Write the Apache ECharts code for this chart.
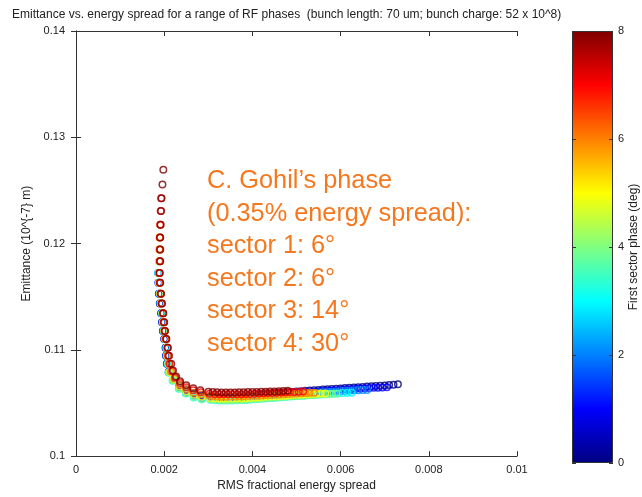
<!DOCTYPE html>
<html>
<head>
<meta charset="utf-8">
<script src="https://cdn.jsdelivr.net/npm/echarts@6/dist/echarts.min.js"></script>
<style>
  html, body { margin: 0; padding: 0; background: #fff; }
  #chart { width: 642px; height: 497px; }
</style>
</head>
<body>
<div id="chart"></div>
<script>
// First-sector RF phase (deg) of each scan; each scan is one curve of
// [RMS fractional energy spread, emittance (1e-7 m)] points.
const phases = [0, 1, 2, 3, 4, 5, 6, 7, 8];

const phase0 = [
  [0.00188,0.11528],[0.00190,0.11435],[0.00193,0.11343],[0.00195,0.11259],[0.00197,0.11176],[0.00200,0.11102],[0.00203,0.11019],
  [0.00204,0.10944],[0.00206,0.10870],[0.00211,0.10795],[0.00224,0.10730],[0.00235,0.10668],[0.00250,0.10626],[0.00267,0.10594],[0.00284,0.10575],[0.00304,0.10563],
  [0.0031,0.10556],[0.0032,0.10552],[0.0033,0.10551],[0.0034,0.10551],[0.0035,0.10553],[0.0036,0.10556],[0.0037,0.10558],[0.0038,0.10562],[0.0039,0.10566],[0.0040,0.10569],
  [0.0041,0.10573],[0.0042,0.10577],[0.0043,0.10582],[0.0044,0.10585],[0.0045,0.10589],[0.0046,0.10593],[0.0047,0.10596],[0.0048,0.10600],[0.0049,0.10604],[0.0050,0.10607],
  [0.0051,0.10610],[0.0052,0.10614],[0.0053,0.10617],[0.0054,0.10620],[0.0055,0.10623],[0.0056,0.10626],[0.0057,0.10629],[0.0058,0.10632],[0.0059,0.10634],[0.0060,0.10637],
  [0.0061,0.10640],[0.0062,0.10643],[0.0063,0.10645],[0.0064,0.10648],[0.0065,0.10651],[0.0066,0.10654],[0.0067,0.10657],[0.0068,0.10659],[0.0069,0.10662],[0.0070,0.10665],
  [0.0071,0.10669],[0.0072,0.10672],[0.0073,0.10676]
];
const phase1 = [
  [0.00187,0.11630],[0.00189,0.11528],[0.00192,0.11435],[0.00194,0.11343],[0.00196,0.11259],[0.00198,0.11176],[0.00201,0.11102],[0.00204,0.11019],
  [0.00205,0.10944],[0.00207,0.10870],[0.00211,0.10793],[0.00223,0.10724],[0.00235,0.10658],[0.00250,0.10615],[0.00267,0.10581],[0.00285,0.10562],[0.00305,0.10551],
  [0.00315,0.10546],[0.00325,0.10543],[0.00335,0.10542],[0.00345,0.10542],[0.00355,0.10543],[0.00365,0.10545],[0.00375,0.10548],[0.00385,0.10552],[0.00395,0.10555],[0.00405,0.10559],
  [0.00415,0.10563],[0.00425,0.10567],[0.00435,0.10570],[0.00445,0.10574],[0.00455,0.10578],[0.00465,0.10581],[0.00475,0.10585],[0.00485,0.10589],[0.00495,0.10592],[0.00505,0.10596],
  [0.00515,0.10600],[0.00525,0.10603],[0.00535,0.10606],[0.00545,0.10609],[0.00555,0.10612],[0.00565,0.10615],[0.00575,0.10618],[0.00585,0.10620],[0.00595,0.10623],[0.00605,0.10626],
  [0.00615,0.10629],[0.00625,0.10631],[0.00635,0.10633],[0.00645,0.10636],[0.00655,0.10638],[0.00665,0.10640],[0.00675,0.10642],[0.00685,0.10643],[0.00695,0.10645],[0.00705,0.10647]
];
const phase2 = [
  [0.00186,0.11722],[0.00187,0.11630],[0.00189,0.11528],[0.00191,0.11435],[0.00194,0.11343],[0.00196,0.11259],[0.00198,0.11176],[0.00201,0.11102],[0.00204,0.11019],
  [0.00205,0.10944],[0.00207,0.10870],[0.00210,0.10790],[0.00221,0.10719],[0.00234,0.10649],[0.00250,0.10604],[0.00268,0.10569],[0.00286,0.10547],[0.00306,0.10540],
  [0.0031,0.10539],[0.0032,0.10535],[0.0033,0.10532],[0.0034,0.10532],[0.0035,0.10533],[0.0036,0.10534],[0.0037,0.10536],[0.0038,0.10539],[0.0039,0.10542],[0.0040,0.10544],
  [0.0041,0.10548],[0.0042,0.10551],[0.0043,0.10555],[0.0044,0.10558],[0.0045,0.10562],[0.0046,0.10566],[0.0047,0.10569],[0.0048,0.10573],[0.0049,0.10577],[0.0050,0.10581],
  [0.0051,0.10584],[0.0052,0.10587],[0.0053,0.10591],[0.0054,0.10594],[0.0055,0.10597],[0.0056,0.10600],[0.0057,0.10603],[0.0058,0.10606],[0.0059,0.10608],[0.0060,0.10611],
  [0.0061,0.10613],[0.0062,0.10616],[0.0063,0.10618],[0.0064,0.10619],[0.0065,0.10621],[0.0066,0.10623]
];
const phase3 = [
  [0.00188,0.11833],[0.00187,0.11722],[0.00188,0.11630],[0.00190,0.11528],[0.00192,0.11435],[0.00195,0.11343],[0.00197,0.11259],[0.00199,0.11176],[0.00202,0.11102],[0.00205,0.11019],
  [0.00206,0.10944],[0.00208,0.10870],[0.00210,0.10787],[0.00219,0.10708],[0.00233,0.10634],[0.00249,0.10588],[0.00267,0.10551],[0.00285,0.10534],[0.00305,0.10531],
  [0.00315,0.10527],[0.00325,0.10524],[0.00335,0.10522],[0.00345,0.10522],[0.00355,0.10523],[0.00365,0.10525],[0.00375,0.10527],[0.00385,0.10529],[0.00395,0.10532],[0.00405,0.10535],
  [0.00415,0.10538],[0.00425,0.10541],[0.00435,0.10544],[0.00445,0.10547],[0.00455,0.10550],[0.00465,0.10554],[0.00475,0.10557],[0.00485,0.10560],[0.00495,0.10563],[0.00505,0.10566],
  [0.00515,0.10569],[0.00525,0.10572],[0.00535,0.10575],[0.00545,0.10577],[0.00555,0.10580],[0.00565,0.10583],[0.00575,0.10586],[0.00585,0.10588],[0.00595,0.10590],[0.00605,0.10593],
  [0.00615,0.10594],[0.00625,0.10596]
];
const phase4 = [
  [0.00189,0.11944],[0.00189,0.11833],[0.00188,0.11722],[0.00189,0.11630],[0.00191,0.11528],[0.00193,0.11435],[0.00196,0.11343],[0.00198,0.11259],[0.00200,0.11176],[0.00203,0.11102],[0.00206,0.11019],
  [0.00207,0.10944],[0.00209,0.10870],[0.00211,0.10787],[0.00220,0.10713],[0.00234,0.10639],[0.00250,0.10593],[0.00268,0.10556],[0.00286,0.10537],[0.00305,0.10535],
  [0.0031,0.10532],[0.0032,0.10528],[0.0033,0.10526],[0.0034,0.10525],[0.0035,0.10526],[0.0036,0.10527],[0.0037,0.10529],[0.0038,0.10531],[0.0039,0.10533],[0.0040,0.10536],
  [0.0041,0.10539],[0.0042,0.10542],[0.0043,0.10544],[0.0044,0.10548],[0.0045,0.10551],[0.0046,0.10554],[0.0047,0.10557],[0.0048,0.10560],[0.0049,0.10563],[0.0050,0.10566],
  [0.0051,0.10569],[0.0052,0.10571],[0.0053,0.10574],[0.0054,0.10576],[0.0055,0.10579],[0.0056,0.10581],[0.0057,0.10582],[0.0058,0.10584],[0.0059,0.10586]
];
const phase5 = [
  [0.00189,0.12056],[0.00189,0.11944],[0.00189,0.11833],[0.00188,0.11722],[0.00189,0.11630],[0.00191,0.11528],[0.00193,0.11435],[0.00196,0.11343],[0.00198,0.11259],[0.00200,0.11176],[0.00203,0.11102],[0.00206,0.11019],
  [0.00207,0.10944],[0.00210,0.10870],[0.00213,0.10792],[0.00222,0.10722],[0.00235,0.10656],[0.00250,0.10611],[0.00268,0.10577],[0.00285,0.10558],[0.00305,0.10547],
  [0.00315,0.10542],[0.00325,0.10540],[0.00335,0.10539],[0.00345,0.10539],[0.00355,0.10540],[0.00365,0.10542],[0.00375,0.10543],[0.00385,0.10545],[0.00395,0.10547],[0.00405,0.10550],
  [0.00415,0.10552],[0.00425,0.10555],[0.00435,0.10558],[0.00445,0.10561],[0.00455,0.10564],[0.00465,0.10566],[0.00475,0.10569],[0.00485,0.10572],[0.00495,0.10575],[0.00505,0.10577],
  [0.00515,0.10580],[0.00525,0.10582],[0.00535,0.10584],[0.00545,0.10586],[0.00555,0.10588],[0.00565,0.10590]
];
const phase6 = [
  [0.00191,0.12176],[0.00190,0.12056],[0.00190,0.11944],[0.00190,0.11833],[0.00189,0.11722],[0.00190,0.11630],[0.00192,0.11528],[0.00194,0.11435],[0.00197,0.11343],[0.00199,0.11259],[0.00201,0.11176],[0.00204,0.11102],[0.00207,0.11019],
  [0.00208,0.10944],[0.00211,0.10870],[0.00215,0.10796],[0.00224,0.10731],[0.00235,0.10671],[0.00250,0.10630],[0.00267,0.10597],[0.00284,0.10579],[0.00303,0.10567],
  [0.0031,0.10563],[0.0032,0.10560],[0.0033,0.10559],[0.0034,0.10559],[0.0035,0.10560],[0.0036,0.10561],[0.0037,0.10562],[0.0038,0.10564],[0.0039,0.10566],[0.0040,0.10568],
  [0.0041,0.10569],[0.0042,0.10571],[0.0043,0.10574],[0.0044,0.10576],[0.0045,0.10578],[0.0046,0.10580],[0.0047,0.10582],[0.0048,0.10584],[0.0049,0.10586],[0.0050,0.10588],
  [0.0051,0.10591],[0.0052,0.10593],[0.0053,0.10595],[0.0054,0.10597]
];
const phase7 = [
  [0.00193,0.12426],[0.00192,0.12306],[0.00191,0.12176],[0.00190,0.12056],[0.00190,0.11944],[0.00190,0.11833],[0.00189,0.11722],[0.00190,0.11630],[0.00192,0.11528],[0.00194,0.11435],[0.00197,0.11343],[0.00199,0.11259],[0.00201,0.11176],[0.00204,0.11102],[0.00208,0.11019],
  [0.00209,0.10944],[0.00212,0.10870],[0.00218,0.10801],[0.00225,0.10741],[0.00236,0.10688],[0.00250,0.10648],[0.00266,0.10619],[0.00283,0.10600],[0.00302,0.10587],
  [0.00315,0.10582],[0.00325,0.10581],[0.00335,0.10581],[0.00345,0.10581],[0.00355,0.10581],[0.00365,0.10582],[0.00375,0.10583],[0.00385,0.10584],[0.00395,0.10585],[0.00405,0.10587],
  [0.00415,0.10589],[0.00425,0.10591],[0.00435,0.10593],[0.00445,0.10594],[0.00455,0.10596],[0.00465,0.10598],[0.00475,0.10600],[0.00485,0.10602],[0.00495,0.10604],[0.00505,0.10605],
  [0.00515,0.10607]
];
const phase8 = [
  [0.00198,0.12694],[0.00196,0.12556],[0.00194,0.12426],[0.00193,0.12306],[0.00192,0.12176],[0.00191,0.12056],[0.00191,0.11944],[0.00191,0.11833],[0.00190,0.11722],[0.00191,0.11630],[0.00193,0.11528],[0.00195,0.11435],[0.00198,0.11343],[0.00200,0.11259],[0.00202,0.11176],[0.00205,0.11102],[0.00208,0.11019],
  [0.00211,0.10944],[0.00216,0.10870],[0.00220,0.10806],[0.00227,0.10750],[0.00236,0.10704],[0.00250,0.10667],[0.00266,0.10639],[0.00282,0.10620],[0.00300,0.10606],
  [0.0031,0.10602],[0.0032,0.10600],[0.0033,0.10599],[0.0034,0.10599],[0.0035,0.10599],[0.0036,0.10599],[0.0037,0.10600],[0.0038,0.10601],[0.0039,0.10602],[0.0040,0.10603],
  [0.0041,0.10604],[0.0042,0.10605],[0.0043,0.10606],[0.0044,0.10607],[0.0045,0.10609],[0.0046,0.10611],[0.0047,0.10613],[0.0048,0.10615]
];
const scans = [phase0, phase1, phase2, phase3, phase4, phase5, phase6, phase7, phase8];

// Axis ranges and ticks
const spreadRange = [0, 0.01], spreadStep = 0.002;
const emitRange = [0.1, 0.14], emitStep = 0.01;
const phaseRange = [0, 8], phaseStep = 2;

const titleText = 'Emittance vs. energy spread for a range of RF phases  (bunch length: 70 um; bunch charge: 52 x 10^8)';
const noteLines = ['C. Gohil\u2019s phase', '(0.35% energy spread):', 'sector 1: 6\u00b0', 'sector 2: 6\u00b0', 'sector 3: 14\u00b0', 'sector 4: 30\u00b0'];

const FONT = '"Liberation Sans", Arial, Helvetica, sans-serif';
const INK = '#222';
const FRAME = '#333';

// MATLAB-style jet colormap, v in [0, 1]
function jet(v) {
  const ch = t => Math.round(255 * Math.max(0, Math.min(1, 1.5 - Math.abs(4 * v - t))));
  return 'rgb(' + ch(3) + ',' + ch(2) + ',' + ch(1) + ')';
}
const phaseSpan = phaseRange[1] - phaseRange[0];
const colorOf = p => jet((p - phaseRange[0]) / phaseSpan);

const gradientStops = [];
for (let i = 0; i <= 8; i++) gradientStops.push({ offset: i / 8, color: jet(1 - i / 8) });

const chart = echarts.init(document.getElementById('chart'), null, { renderer: 'canvas' });

const tickStyle = { show: true, inside: true, length: 5, lineStyle: { color: FRAME, width: 1 } };
const lineStyle = { show: true, lineStyle: { color: FRAME, width: 1 } };
const nameStyle = { fontSize: 12, color: INK, fontFamily: FONT };

// Hollow circles, higher phases drawn on top
const scatterSeries = phases.map((p, i) => ({
  type: 'scatter',
  name: String(p),
  xAxisIndex: 0,
  yAxisIndex: 0,
  data: scans[i],
  symbol: 'circle',
  symbolSize: 6.5,
  silent: true,
  itemStyle: { color: 'rgba(0,0,0,0)', borderColor: colorOf(p), borderWidth: 1.5 },
  z: 2 + i * 0.01
}));

chart.setOption({
  animation: false,
  backgroundColor: '#fff',
  textStyle: { fontFamily: FONT },
  title: {
    text: titleText,
    left: 7, top: 4,
    textStyle: { fontSize: 12, fontWeight: 'normal', color: INK, fontFamily: FONT }
  },
  grid: [
    { left: 76, top: 31, right: 125, bottom: 34 },
    { left: 572, top: 31, right: 29, bottom: 34 }
  ],
  xAxis: [
    {
      gridIndex: 0, type: 'value', position: 'bottom',
      min: spreadRange[0], max: spreadRange[1], interval: spreadStep,
      name: 'RMS fractional energy spread', nameLocation: 'middle', nameGap: 20,
      nameTextStyle: nameStyle,
      axisLine: lineStyle, axisTick: tickStyle, splitLine: { show: false },
      axisLabel: { fontSize: 11, color: INK, margin: 8, fontFamily: FONT }
    },
    {
      gridIndex: 0, type: 'value', position: 'top',
      min: spreadRange[0], max: spreadRange[1], interval: spreadStep,
      axisLine: lineStyle, axisTick: tickStyle, splitLine: { show: false },
      axisLabel: { show: false }
    },
    {
      gridIndex: 1, type: 'category', data: ['bar'], show: false
    }
  ],
  yAxis: [
    {
      gridIndex: 0, type: 'value', position: 'left',
      min: emitRange[0], max: emitRange[1], interval: emitStep,
      name: 'Emittance (10^{-7} m)', nameLocation: 'middle', nameRotate: 90, nameGap: 36,
      nameTextStyle: nameStyle,
      axisLine: lineStyle, axisTick: tickStyle, splitLine: { show: false },
      axisLabel: { fontSize: 11, color: INK, margin: 11, fontFamily: FONT }
    },
    {
      gridIndex: 0, type: 'value', position: 'right',
      min: emitRange[0], max: emitRange[1], interval: emitStep,
      axisLine: lineStyle, axisTick: tickStyle, splitLine: { show: false },
      axisLabel: { show: false }
    },
    {
      gridIndex: 1, type: 'value', position: 'right', z: 5,
      min: phaseRange[0], max: phaseRange[1], interval: phaseStep,
      name: 'First sector phase (deg)', nameLocation: 'middle', nameRotate: 90, nameGap: 13,
      nameTextStyle: Object.assign({ verticalAlign: 'top' }, nameStyle),
      axisLine: { show: false },
      axisTick: { show: true, inside: true, length: 4, lineStyle: { color: FRAME } },
      splitLine: { show: false },
      axisLabel: { fontSize: 11, color: INK, margin: 5, fontFamily: FONT }
    },
    {
      gridIndex: 1, type: 'value', position: 'left', z: 5,
      min: phaseRange[0], max: phaseRange[1], interval: phaseStep,
      axisLine: { show: false },
      axisTick: { show: true, inside: true, length: 4, lineStyle: { color: FRAME } },
      splitLine: { show: false },
      axisLabel: { show: false }
    }
  ],
  graphic: [
    {
      type: 'text', left: 207, top: 165, z: 10, silent: true,
      style: {
        text: noteLines.join('\n'),
        fill: '#F5781F',
        fontSize: 25.3,
        fontFamily: FONT,
        lineHeight: 32.5
      }
    }
  ],
  series: [
    {
      type: 'bar',
      xAxisIndex: 2, yAxisIndex: 2,
      data: [phaseRange[1]],
      barWidth: '100%',
      silent: true,
      itemStyle: {
        color: new echarts.graphic.LinearGradient(0, 0, 0, 1, gradientStops),
        borderColor: FRAME, borderWidth: 1
      }
    }
  ].concat(scatterSeries)
});
</script>
</body>
</html>
